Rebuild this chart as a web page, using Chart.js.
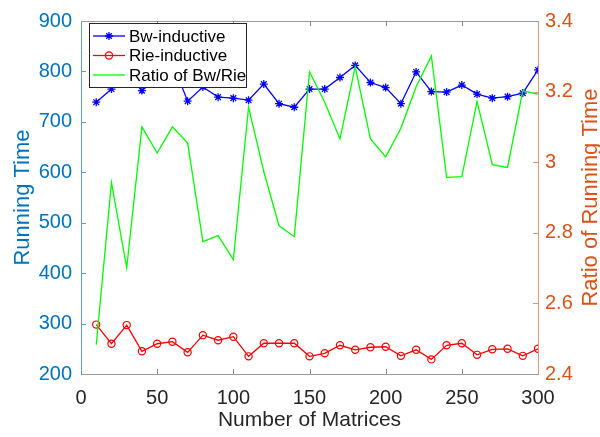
<!DOCTYPE html>
<html>
<head>
<meta charset="utf-8">
<script src="https://cdn.jsdelivr.net/npm/chart.js@4/dist/chart.umd.min.js"></script>
<style>
  html, body { margin: 0; padding: 0; background: #fff; }
  canvas { display: block; }
</style>
</head>
<body>
<canvas id="chart" width="600" height="437"></canvas>
<script>
const matrices = [10, 20, 30, 40, 50, 60, 70, 80, 90, 100, 110, 120, 130, 140, 150,
  160, 170, 180, 190, 200, 210, 220, 230, 240, 250, 260, 270, 280, 290, 300];
const bwTime = [739, 765, 802, 762, 787, 818, 741, 769, 749, 747, 743, 775, 736, 729, 765,
  765, 788, 812, 778, 768, 736, 799, 760, 759, 773, 755, 747, 750, 757, 803];
const rieTime = [298, 260, 297, 245, 260, 264, 243, 277, 267, 274, 235, 261, 261, 261, 235,
  241, 257, 248, 253, 254, 236, 248, 229, 257, 261, 238, 249, 250, 236, 250];
const ratio = [2.483, 2.942, 2.701, 3.100, 3.026, 3.100, 3.054, 2.775, 2.792, 2.724, 3.156, 2.973, 2.820, 2.789, 3.256,
  3.170, 3.066, 3.270, 3.066, 3.015, 3.096, 3.214, 3.301, 2.957, 2.959, 3.172, 2.993, 2.985, 3.202, 3.193];
const seriesLabels = ["Bw-inductive", "Rie-inductive", "Ratio of Bw/Rie"];
const rightTitle = "Ratio of Running Time";

const FONT = "'Liberation Sans', Arial, Helvetica, sans-serif";
const BLUE_AXIS = "#0072BD";
const ORANGE_AXIS = "#D95319";
const DARK = "#262626";

const toPoints = (ys) => matrices.map((x, i) => ({ x, y: ys[i] }));

// MATLAB style: box on, ticks pointing inward
const boxPlugin = {
  id: "box",
  afterDraw(chart) {
    const { ctx, chartArea: a, scales } = chart;
    const len = 5;
    ctx.save();
    ctx.lineWidth = 1;

    ctx.strokeStyle = "#9a9a9a";
    ctx.beginPath();
    ctx.moveTo(a.left, a.top + 0.5);
    ctx.lineTo(a.right, a.top + 0.5);
    ctx.stroke();

    ctx.strokeStyle = "#8a8a8a";
    scales.x.ticks.forEach((t) => {
      const px = Math.round(scales.x.getPixelForValue(t.value)) + 0.5;
      if (px <= a.left + 1 || px >= a.right - 1) return;
      ctx.beginPath();
      ctx.moveTo(px, a.bottom);
      ctx.lineTo(px, a.bottom - len);
      ctx.moveTo(px, a.top);
      ctx.lineTo(px, a.top + len);
      ctx.stroke();
    });

    ctx.strokeStyle = "#5f9bcc";
    scales.y.ticks.forEach((t) => {
      const py = Math.round(scales.y.getPixelForValue(t.value)) + 0.5;
      if (py <= a.top + 1 || py >= a.bottom - 1) return;
      ctx.beginPath();
      ctx.moveTo(a.left, py);
      ctx.lineTo(a.left + len, py);
      ctx.stroke();
    });

    ctx.strokeStyle = "#d69a7a";
    scales.y1.ticks.forEach((t) => {
      const py = Math.round(scales.y1.getPixelForValue(t.value)) + 0.5;
      if (py <= a.top + 1 || py >= a.bottom - 1) return;
      ctx.beginPath();
      ctx.moveTo(a.right, py);
      ctx.lineTo(a.right - len, py);
      ctx.stroke();
    });

    // right axis title reads bottom-to-top like the left one
    ctx.translate(591, (a.top + a.bottom) / 2);
    ctx.rotate(-Math.PI / 2);
    ctx.font = `22px ${FONT}`;
    ctx.fillStyle = ORANGE_AXIS;
    ctx.textAlign = "center";
    ctx.textBaseline = "middle";
    ctx.fillText(rightTitle, 0, 0);
    ctx.restore();
  },
};

const legendPlugin = {
  id: "insideLegend",
  afterDraw(chart) {
    const { ctx } = chart;
    const x0 = 89, y0 = 23, w = 157, h = 64;
    ctx.save();
    ctx.fillStyle = "#fff";
    ctx.fillRect(x0, y0, w, h);
    ctx.strokeStyle = DARK;
    ctx.lineWidth = 1;
    ctx.strokeRect(x0 + 0.5, y0 + 0.5, w, h);

    ctx.font = `17px ${FONT}`;
    ctx.textBaseline = "middle";
    chart.data.datasets.forEach((ds, i) => {
      const y = y0 + 13 + i * 19.5;
      ctx.strokeStyle = ds.borderColor;
      ctx.lineWidth = ds.borderWidth;
      ctx.beginPath();
      ctx.moveTo(x0 + 4, y);
      ctx.lineTo(x0 + 36, y);
      ctx.stroke();
      if (ds.pointRadius > 0) {
        ctx.fillStyle = ds.pointBackgroundColor || "rgba(0,0,0,0)";
        ctx.strokeStyle = ds.pointBorderColor;
        ctx.lineWidth = ds.pointBorderWidth;
        Chart.helpers.drawPoint(ctx, {
          pointStyle: ds.pointStyle,
          radius: ds.pointRadius,
          rotation: 0,
          borderWidth: ds.pointBorderWidth,
        }, x0 + 20, y);
      }
      ctx.fillStyle = "#000";
      ctx.fillText(ds.label, x0 + 40, y + 1);
    });
    ctx.restore();
  },
};

new Chart(document.getElementById("chart"), {
  type: "line",
  data: {
    datasets: [
      {
        label: seriesLabels[0],
        data: toPoints(bwTime),
        yAxisID: "y",
        borderColor: "#0000ff",
        backgroundColor: "#0000ff",
        borderWidth: 1.3,
        pointStyle: "star",
        pointRadius: 4,
        pointBorderWidth: 1.3,
        pointBorderColor: "#0000ff",
        pointBackgroundColor: "#0000ff",
        order: 1,
      },
      {
        label: seriesLabels[1],
        data: toPoints(rieTime),
        yAxisID: "y",
        borderColor: "#ff0000",
        backgroundColor: "rgba(0,0,0,0)",
        borderWidth: 1.3,
        pointStyle: "circle",
        pointRadius: 3.6,
        pointBorderWidth: 1.2,
        pointBorderColor: "#ff0000",
        pointBackgroundColor: "rgba(0,0,0,0)",
        order: 2,
      },
      {
        label: seriesLabels[2],
        data: toPoints(ratio),
        yAxisID: "y1",
        borderColor: "#00ff00",
        backgroundColor: "#00ff00",
        borderWidth: 1.3,
        pointRadius: 0,
        order: 0,
      },
    ],
  },
  options: {
    responsive: false,
    animation: false,
    events: [],
    layout: { padding: { top: 15, left: 0, right: 0, bottom: 0 } },
    plugins: {
      legend: { display: false },
      tooltip: { enabled: false },
    },
    elements: { line: { tension: 0 } },
    scales: {
      x: {
        type: "linear",
        min: 0,
        max: 300,
        afterFit: (s) => { s.height = 63; },
        grid: { display: false, drawTicks: false },
        border: { display: true, color: "#9a9a9a" },
        ticks: {
          stepSize: 50,
          color: DARK,
          padding: 12,
          font: { family: FONT, size: 20 },
        },
        title: {
          display: true,
          text: "Number of Matrices",
          color: DARK,
          font: { family: FONT, size: 21 },
          padding: { top: 0, bottom: 4 },
        },
      },
      y: {
        position: "left",
        min: 200,
        max: 900,
        afterFit: (s) => { s.width = 81; },
        grid: { display: false, drawTicks: false },
        border: { display: true, color: "#5f9bcc" },
        ticks: {
          stepSize: 100,
          color: BLUE_AXIS,
          padding: 9,
          font: { family: FONT, size: 20 },
        },
        title: {
          display: true,
          text: "Running Time",
          color: BLUE_AXIS,
          font: { family: FONT, size: 22 },
          padding: { top: 10, bottom: 0 },
        },
      },
      y1: {
        position: "right",
        min: 2.4,
        max: 3.4,
        afterFit: (s) => { s.width = 62; },
        grid: { display: false, drawTicks: false },
        border: { display: true, color: "#d69a7a" },
        ticks: {
          stepSize: 0.2,
          color: ORANGE_AXIS,
          padding: 7,
          font: { family: FONT, size: 20 },
          callback: (v) => (Math.abs(v - 3) < 1e-9 ? "3" : v.toFixed(1)),
        },
        title: { display: false },
      },
    },
  },
  plugins: [boxPlugin, legendPlugin],
});
</script>
</body>
</html>
